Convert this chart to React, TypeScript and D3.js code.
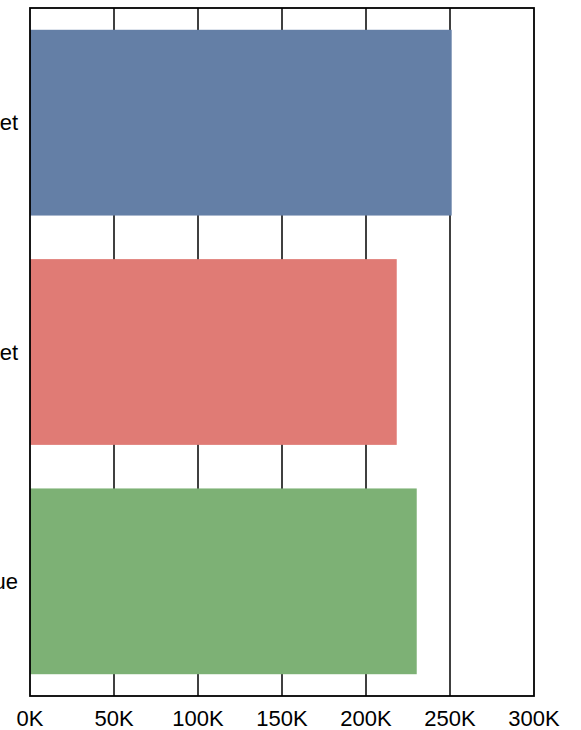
import React, { useEffect, useRef } from "react";
import * as d3 from "d3";

const categories: string[] = ["Budget", "Target", "Revenue"];
const values: number[] = [251000, 218300, 230200];
const colors: string[] = ["#647fa6", "#e07b75", "#7db175"];
const tickValues: number[] = [0, 50000, 100000, 150000, 200000, 250000, 300000];

const W = 581;
const H = 730;
const M = { left: 30, right: 47, top: 8, bottom: 34 };

export default function App() {
  const ref = useRef<SVGSVGElement | null>(null);

  useEffect(() => {
    const svg = d3.select(ref.current);
    svg.selectAll("*").remove();
    const font = "'Liberation Sans', Arial, sans-serif";

    const x = d3.scaleLinear().domain([0, 300000]).range([M.left, W - M.right]);
    const y = d3
      .scaleBand<string>()
      .domain(categories)
      .range([M.top, H - M.bottom])
      .paddingInner(0.19)
      .paddingOuter(0.095);

    // gridlines
    svg
      .append("g")
      .selectAll("line")
      .data(tickValues.slice(1, -1))
      .join("line")
      .attr("x1", (d) => x(d))
      .attr("x2", (d) => x(d))
      .attr("y1", M.top)
      .attr("y2", H - M.bottom)
      .attr("stroke", "#000")
      .attr("stroke-width", 1.5);

    // bars
    svg
      .append("g")
      .selectAll("rect")
      .data(categories)
      .join("rect")
      .attr("x", x(0))
      .attr("y", (d) => y(d)!)
      .attr("width", (_d, i) => x(values[i]) - x(0))
      .attr("height", y.bandwidth())
      .attr("fill", (_d, i) => colors[i]);

    // frame
    svg
      .append("rect")
      .attr("x", M.left)
      .attr("y", M.top)
      .attr("width", W - M.right - M.left)
      .attr("height", H - M.bottom - M.top)
      .attr("fill", "none")
      .attr("stroke", "#000")
      .attr("stroke-width", 1.8);

    // x tick labels
    svg
      .append("g")
      .selectAll("text")
      .data(tickValues)
      .join("text")
      .attr("x", (d) => x(d))
      .attr("y", 726)
      .attr("text-anchor", "middle")
      .attr("font-family", font)
      .attr("font-size", 22)
      .attr("fill", "#000")
      .text((d) => `${d / 1000}K`);

    // category labels
    svg
      .append("g")
      .selectAll("text")
      .data(categories)
      .join("text")
      .attr("x", M.left - 12)
      .attr("y", (d) => y(d)! + y.bandwidth() / 2)
      .attr("dy", "0.35em")
      .attr("text-anchor", "end")
      .attr("font-family", font)
      .attr("font-size", 22)
      .attr("fill", "#000")
      .text((d) => d);
  }, []);

  return (
    <svg
      ref={ref}
      width={W}
      height={H}
      style={{ position: "absolute", left: 0, top: 0, background: "#fff" }}
    />
  );
}
